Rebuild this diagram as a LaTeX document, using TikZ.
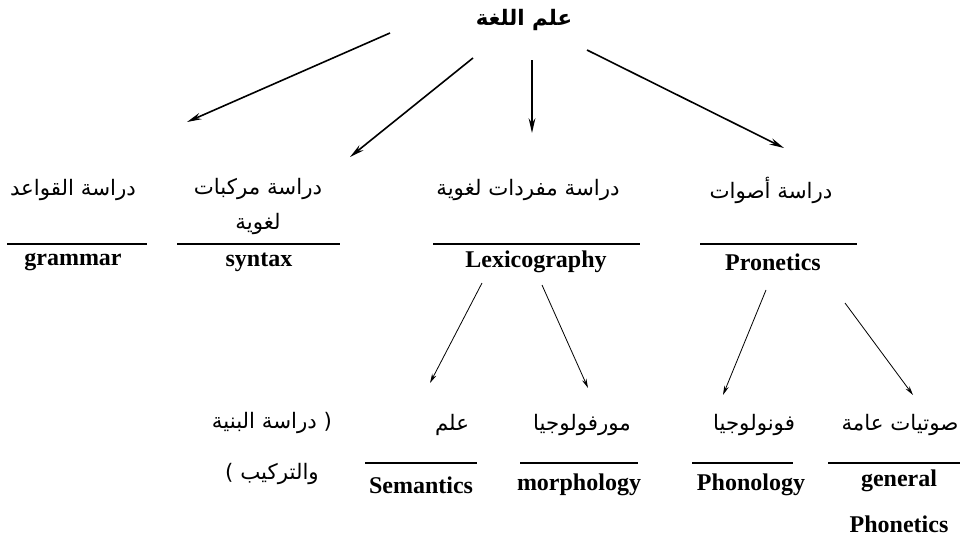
\documentclass[tikz,border=0pt]{standalone}
\usepackage{fontspec}
\setmainfont{Liberation Serif}
\newfontfamily\arabicfont[Script=Arabic]{DejaVu Sans}
\TeXXeTstate=1
\usetikzlibrary{arrows.meta}

\newcommand{\rtl}[1]{\beginR #1\endR}

\begin{document}
\begin{tikzpicture}[x=0.75pt,y=-0.75pt,
	ar/.style={font=\arabicfont\fontsize{16}{22}\selectfont, align=center, inner sep=0pt},
	en/.style={font=\bfseries\fontsize{18}{20}\selectfont, align=center, inner sep=0pt},
	bigarrow/.style={-{Stealth[length=11pt,width=5pt]}, line width=1.2pt},
	smallarrow/.style={-{Stealth[length=7pt,width=3.5pt]}, line width=0.6pt},
	rule/.style={line width=0.9pt}]
	\useasboundingbox (0,0) rectangle (975,539);
	
	% Define the root and the first level
	\node[ar, font=\arabicfont\bfseries\fontsize{16}{22}\selectfont] (root) at (524,20) {\rtl{علم اللغة}};
	\node[ar] (gramAr) at (73,190) {\rtl{دراسة القواعد}};
	\node[ar, anchor=north] (synAr) at (258,178) {\rtl{دراسة مركبات}\\[4pt]\rtl{لغوية}};
	\node[ar] (lexAr) at (528,190) {\rtl{دراسة مفردات لغوية}};
	\node[ar] (phonAr) at (771,190) {\rtl{دراسة أصوات}};
	\node[en] (gram) at (73,262) {grammar};
	\node[en] (syn) at (259,262) {syntax};
	\node[en] (lex) at (536,262) {Lexicography};
	\node[en] (phon) at (773,262) {Pronetics};
	
	% Define the second level
	\node[ar, anchor=north] (strAr) at (272,412) {\rtl{( دراسة البنية}\\[16pt]\rtl{والتركيب )}};
	\node[ar] (semAr) at (452,425) {\rtl{علم}};
	\node[ar] (morAr) at (582,425) {\rtl{مورفولوجيا}};
	\node[ar] (fonAr) at (754,425) {\rtl{فونولوجيا}};
	\node[ar] (genAr) at (900,425) {\rtl{صوتيات عامة}};
	\node[en] (sem) at (421,485) {Semantics};
	\node[en] (mor) at (579,485) {morphology};
	\node[en] (fon) at (751,485) {Phonology};
	\node[en, anchor=north] (gen) at (899,470) {general\\[14pt]Phonetics};
	
	% Define the ends of the arrows
	\coordinate (r1) at (390,33);  \coordinate (e1) at (187,122);
	\coordinate (r2) at (473,58);  \coordinate (e2) at (350,157);
	\coordinate (r3) at (532,60);  \coordinate (e3) at (532,133);
	\coordinate (r4) at (587,50);  \coordinate (e4) at (784,148);
	\coordinate (l1) at (482,283); \coordinate (e5) at (430,383);
	\coordinate (l2) at (542,285); \coordinate (e6) at (588,388);
	\coordinate (p1) at (766,290); \coordinate (e7) at (723,395);
	\coordinate (p2) at (845,303); \coordinate (e8) at (913,395);
	
	% Draw the arrows
	\draw[bigarrow] (r1) -- (e1);
	\draw[bigarrow] (r2) -- (e2);
	\draw[bigarrow] (r3) -- (e3);
	\draw[bigarrow] (r4) -- (e4);
	\draw[smallarrow] (l1) -- (e5);
	\draw[smallarrow] (l2) -- (e6);
	\draw[smallarrow] (p1) -- (e7);
	\draw[smallarrow] (p2) -- (e8);
	
	% Draw the rules between Arabic and English names
	\draw[rule] (7,244) -- (147,244);
	\draw[rule] (177,244) -- (340,244);
	\draw[rule] (433,244) -- (640,244);
	\draw[rule] (700,244) -- (857,244);
	\draw[rule] (365,463) -- (477,463);
	\draw[rule] (520,463) -- (638,463);
	\draw[rule] (692,463) -- (793,463);
	\draw[rule] (828,463) -- (960,463);
\end{tikzpicture}
\end{document}
